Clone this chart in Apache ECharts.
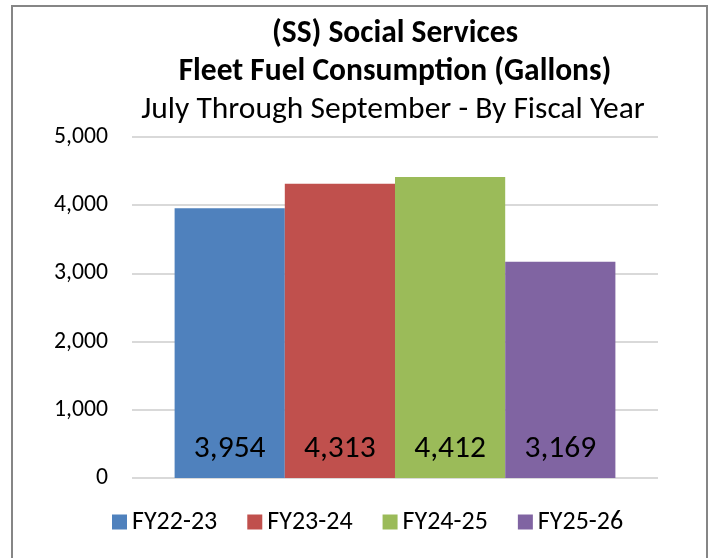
<!DOCTYPE html>
<html>
<head>
<meta charset="utf-8">
<script src="https://cdn.jsdelivr.net/npm/echarts@6/dist/echarts.min.js"></script>
<style>
    html, body { margin: 0; padding: 0; background: #fff; }
    #main { width: 711px; height: 558px; }
</style>
</head>
<body>
<div id="main"></div>
<script>
// 数据
const fiscalYears = ['FY22-23', 'FY23-24', 'FY24-25', 'FY25-26'];
const gallons = [3954, 4313, 4412, 3169];
const barColors = ['#4F81BD', '#C0504D', '#9BBB59', '#8064A2'];
const yTicks = [0, 1000, 2000, 3000, 4000, 5000];

const FONT = "Carlito, 'Liberation Sans Narrow', 'Open Sans', sans-serif";

function fmt(v) {
    return v.toLocaleString('en-US');
}

var myChart = echarts.init(document.getElementById('main'));

// 每个财年一个系列，共用一个类目
let seriesList = fiscalYears.map(function (name, i) {
    return {
        name: name,
        type: 'bar',
        barGap: 0,
        barCategoryGap: '16.2%',
        itemStyle: { color: barColors[i] },
        label: {
            show: true,
            position: 'insideBottom',
            distance: 13,
            color: '#000',
            fontFamily: FONT,
            fontSize: 31.5,
            formatter: function (p) { return fmt(p.value); }
        },
        data: [gallons[i]]
    };
});

var option = {
    animation: false,
    title: [
        {
            text: '(SS) Social Services',
            left: 390, top: 13, textAlign: 'center',
            textStyle: { fontFamily: FONT, fontSize: 31.5, fontWeight: 'bold', color: '#000' }
        },
        {
            text: 'Fleet Fuel Consumption (Gallons)',
            left: 390, top: 51, textAlign: 'center',
            textStyle: { fontFamily: FONT, fontSize: 31.5, fontWeight: 'bold', color: '#000' }
        },
        {
            text: 'July Through September - By Fiscal Year',
            left: 388, top: 89, textAlign: 'center',
            textStyle: { fontFamily: FONT, fontSize: 31.5, fontWeight: 'normal', color: '#000' }
        }
    ],
    legend: {
        data: fiscalYears,
        left: 112,
        top: 509,
        icon: 'rect',
        itemWidth: 15,
        itemHeight: 15,
        itemGap: 30,
        padding: 0,
        textStyle: { fontFamily: FONT, fontSize: 26, color: '#000' }
    },
    grid: {
        left: 132,
        right: 53,
        top: 137,
        bottom: 80
    },
    xAxis: {
        type: 'category',
        data: [''],
        axisLine: { show: false },
        axisTick: { show: false },
        axisLabel: { show: false }
    },
    yAxis: {
        type: 'value',
        min: yTicks[0],
        max: yTicks[yTicks.length - 1],
        interval: 1000,
        axisLine: { show: false },
        axisTick: { show: false },
        axisLabel: {
            margin: 24,
            fontFamily: FONT,
            fontSize: 23.7,
            color: '#000',
            formatter: function (v) { return fmt(v); }
        },
        splitLine: { lineStyle: { color: '#D9D9D9', width: 2 } }
    },
    graphic: [
        {
            type: 'rect',
            shape: { x: 12, y: 6, width: 695, height: 570 },
            style: { fill: 'none', stroke: '#868686', lineWidth: 2 },
            silent: true
        }
    ],
    series: seriesList
};

myChart.setOption(option);
</script>
</body>
</html>
